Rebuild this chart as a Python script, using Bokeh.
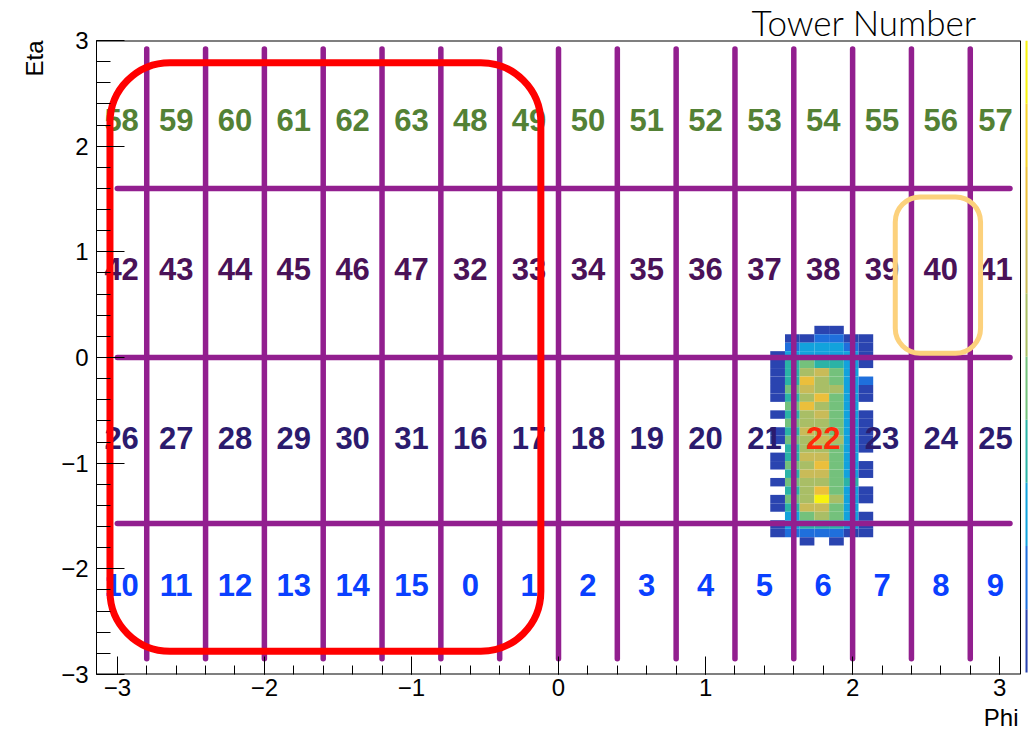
import numpy as np
from bokeh.plotting import figure
from bokeh.models import Range1d, FixedTicker, Title, ColumnDataSource
from bokeh.transform import linear_cmap
from bokeh.core.properties import value
from bokeh.embed import file_html
from bokeh.resources import INLINE

PI = np.pi

# ---------------- data ----------------
# tower boundaries in phi (cell edges) and eta
phi_edges = [-PI, -2.8, -2.4, -2.0, -1.6, -1.2, -0.8, -0.4, 0.0,
             0.4, 0.8, 1.2, 1.6, 2.0, 2.4, 2.8, PI]
eta_lines = [1.6, 0.0, -1.57]
vline_eta_span = [-2.85, 2.92]
hline_phi_span = [-3.0, 3.07]

# tower numbers per eta row (top to bottom) and the eta of each row
row_eta = [2.25, 0.84, -0.76, -2.15]
towers_top = [58, 59, 60, 61, 62, 63, 48, 49, 50, 51, 52, 53, 54, 55, 56, 57]
towers_mid_hi = [42, 43, 44, 45, 46, 47, 32, 33, 34, 35, 36, 37, 38, 39, 40, 41]
towers_mid_lo = [26, 27, 28, 29, 30, 31, 16, 17, 18, 19, 20, 21, 22, 23, 24, 25]
towers_bottom = [10, 11, 12, 13, 14, 15, 0, 1, 2, 3, 4, 5, 6, 7, 8, 9]
hit_tower = 22

# 2D histogram (energy deposit) : phi bin edges, eta bins from top
hist_phi_edges = [1.44, 1.54, 1.64, 1.74, 1.84, 1.94, 2.04, 2.14]
hist_eta_top = 0.30
hist_eta_bin = 0.08
hist_counts = [
    [0, 0, 0, 1, 1, 0, 0],
    [0, 1, 1, 2, 2, 1, 1],
    [0, 2, 3, 3, 3, 2, 1],
    [1, 3, 3, 3, 3, 3, 1],
    [1, 4, 5, 4, 4, 3, 1],
    [1, 4, 6, 7, 5, 3, 0],
    [1, 4, 8, 6, 5, 3, 2],
    [1, 5, 7, 6, 6, 3, 1],
    [1, 4, 6, 8, 5, 3, 1],
    [0, 5, 8, 6, 5, 3, 0],
    [1, 4, 6, 7, 5, 3, 1],
    [0, 5, 6, 6, 5, 3, 1],
    [1, 4, 7, 6, 5, 3, 1],
    [1, 5, 6, 7, 6, 3, 1],
    [0, 4, 6, 6, 5, 3, 1],
    [1, 4, 7, 7, 5, 3, 0],
    [1, 5, 6, 8, 5, 3, 1],
    [0, 4, 7, 7, 5, 3, 1],
    [1, 5, 6, 6, 5, 4, 0],
    [0, 4, 6, 8, 5, 3, 1],
    [1, 5, 6, 10, 6, 3, 1],
    [1, 4, 7, 7, 5, 3, 0],
    [0, 3, 5, 6, 5, 3, 1],
    [1, 3, 4, 4, 4, 3, 1],
    [1, 2, 2, 2, 2, 1, 1],
    [0, 0, 1, 0, 1, 0, 0],
]

# highlighted regions (phi left/right, eta bottom/top)
red_region = [-3.05, -0.12, -2.78, 2.79]
orange_region = [2.29, 2.87, 0.04, 1.52]

# ---------------- styles ----------------
parula = ["#2a44b0", "#1f6fdc", "#12a2dc", "#2bb3a6", "#74c17c",
          "#a9be66", "#c9bb58", "#ebbf3c", "#f6d22a", "#f8f20e"]
row_colors = ["#538135", "#4a1258", "#2b1b6e", "#0a40ff"]
hit_color = "#ff2a0a"
grid_color = "#921f8f"
FONT = "Liberation Sans"
X_PAD = 0.0544  # room for the thin colour strip right of the frame

p = figure(width=1033, height=734,
           x_range=Range1d(-PI, PI + X_PAD), y_range=Range1d(-3, 3),
           output_backend="svg", toolbar_location=None,
           min_border_left=96, min_border_right=5,
           min_border_top=38, min_border_bottom=60)
p.grid.visible = False
p.outline_line_color = None
p.background_fill_color = "white"
p.border_fill_color = "white"

# title
p.title.text = "Tower Number"
p.title.align = "left"
p.title.offset = 655
p.title.standoff = -4
p.title.text_font = "Lato Light"
p.title.text_font_size = "35px"
p.title.text_font_style = "normal"
p.title.text_color = "black"

# axes
minus = lambda v: ("\u2212" + str(abs(v))) if v < 0 else str(v)
major = [-3, -2, -1, 0, 1, 2, 3]
minor = [round(-3 + 0.2 * k, 1) for k in range(31)]
for ax in (p.xaxis[0], p.yaxis[0]):
    ax.ticker = FixedTicker(ticks=major, minor_ticks=minor)
    ax.major_label_overrides = {v: minus(v) for v in major}
    ax.major_label_text_font = FONT
    ax.major_label_text_font_size = "24px"
    ax.major_label_text_color = "black"
    ax.major_tick_line_color = "black"
    ax.minor_tick_line_color = "black"
    ax.major_tick_out = 0
    ax.minor_tick_out = 0
p.xaxis.axis_line_color = None
p.xaxis.major_tick_in = 18
p.xaxis.minor_tick_in = 9
p.xaxis.major_label_standoff = 4
p.yaxis.axis_line_color = "black"
p.yaxis.major_tick_in = 28
p.yaxis.minor_tick_in = 14
p.yaxis.major_label_standoff = 8

p.add_layout(Title(text="Eta", align="right", standoff=21, text_font=FONT,
                   text_font_size="24px", text_font_style="normal",
                   text_color="black"), "left")
p.add_layout(Title(text="Phi", align="right", offset=10, standoff=6,
                   text_font=FONT, text_font_size="24px",
                   text_font_style="normal", text_color="black"), "below")

# heat map
hl, hr, ht, hb, hv = [], [], [], [], []
for i, row in enumerate(hist_counts):
    top = hist_eta_top - i * hist_eta_bin
    for j, v in enumerate(row):
        if v > 0:
            hl.append(hist_phi_edges[j]); hr.append(hist_phi_edges[j + 1])
            ht.append(top); hb.append(top - hist_eta_bin); hv.append(v)
hsrc = ColumnDataSource(dict(l=hl, r=hr, t=ht, b=hb, v=hv))
cmap = linear_cmap("v", parula, 1, 10)
p.quad(left="l", right="r", top="t", bottom="b", source=hsrc,
       fill_color=cmap, line_color=None)

# tower grid lines
inner = phi_edges[1:-1]
p.segment(x0=inner, x1=inner, y0=[vline_eta_span[0]] * len(inner),
          y1=[vline_eta_span[1]] * len(inner),
          line_color=grid_color, line_width=5.5, line_cap="round")
p.segment(x0=[hline_phi_span[0]] * len(eta_lines),
          x1=[hline_phi_span[1]] * len(eta_lines),
          y0=eta_lines, y1=eta_lines,
          line_color=grid_color, line_width=5.5, line_cap="round")

# tower numbers
centers = [(phi_edges[k] + phi_edges[k + 1]) / 2 for k in range(16)]
tx, ty, tt, tc = [], [], [], []
for r, towers in enumerate([towers_top, towers_mid_hi, towers_mid_lo, towers_bottom]):
    for k, n in enumerate(towers):
        tx.append(centers[k]); ty.append(row_eta[r]); tt.append(str(n))
        tc.append(hit_color if n == hit_tower else row_colors[r])
p.text(x="x", y="y", text="t", text_color="c",
       source=ColumnDataSource(dict(x=tx, y=ty, t=tt, c=tc)),
       text_font=value(FONT), text_font_style="bold", text_font_size="31px",
       text_align="center", text_baseline="middle")

# highlight boxes
p.quad(left=[red_region[0]], right=[red_region[1]], bottom=[red_region[2]],
       top=[red_region[3]], fill_color=None, line_color="#ff0000",
       line_width=7, border_radius=60)
p.quad(left=[orange_region[0]], right=[orange_region[1]], bottom=[orange_region[2]],
       top=[orange_region[3]], fill_color=None, line_color="#fcd17c",
       line_width=5, border_radius=25)

# frame border (top, right, bottom)
p.segment(x0=[-PI, PI, -PI], x1=[PI, PI, PI], y0=[3, -3, -3], y1=[3, 3, -3],
          line_color="black", line_width=[2, 1, 2])

# thin colour scale strip at the right edge
n = len(parula)
sb = [-2.98 + k * (5.98 / n) for k in range(n)]
p.quad(left=[PI + 0.034] * n, right=[PI + 0.048] * n, bottom=sb,
       top=[b + 5.98 / n for b in sb], fill_color=parula, line_color=None)

open("out.html", "w").write(file_html(p, INLINE))
